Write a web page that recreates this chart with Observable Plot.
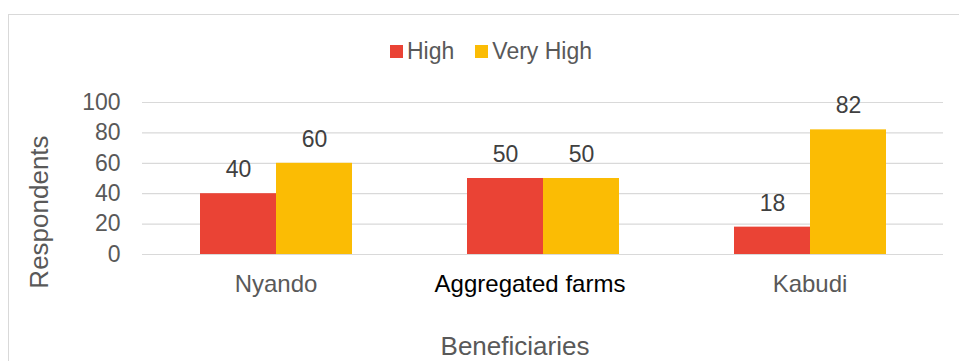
<!DOCTYPE html>
<html>
<head>
<meta charset="utf-8">
<script src="https://cdn.jsdelivr.net/npm/d3@7"></script>
<script src="https://cdn.jsdelivr.net/npm/@observablehq/plot@0.6"></script>
<style>
  html, body { margin: 0; padding: 0; background: #fff; }
  #frame { position: relative; width: 959px; height: 361px; overflow: hidden; background: #fff;
           font-family: "Liberation Sans", Arial, sans-serif; color: #595959; }
  #border { position: absolute; left: 8px; top: 14px; width: 1000px; height: 400px;
            border: 1px solid #d9d9d9; pointer-events: none; }
  #legend { position: absolute; left: 390px; top: 40px; height: 23px; display: flex;
            align-items: center; font-size: 23px; line-height: 23px; white-space: nowrap; }
  #legend .sw { display: inline-block; width: 13px; height: 13px; margin-right: 4px; }
  #legend .item { display: flex; align-items: center; }
  #legend .item + .item { margin-left: 21px; }
  #chart { position: absolute; left: 0; top: 70px; }
  #xtitle { position: absolute; left: 0; top: 333px; width: 1030px; text-align: center;
            font-size: 26px; line-height: 26px; white-space: nowrap; }
  #ytitle { position: absolute; left: -61.4px; top: 198.5px; width: 200px; height: 26px;
            text-align: center; font-size: 26px; line-height: 26px; white-space: nowrap;
            transform: rotate(-90deg); }
</style>
</head>
<body>
<div id="frame">
  <div id="legend"></div>
  <div id="chart"></div>
  <div id="xtitle">Beneficiaries</div>
  <div id="ytitle">Respondents</div>
  <div id="border"></div>
</div>
<script>
// Beneficiary sites and rating levels
const sites = ["Nyando", "Aggregated farms", "Kabudi"];
const levels = ["High", "Very High"];
const highValues = [40, 50, 18];
const veryHighValues = [60, 50, 82];
const yTicks = [0, 20, 40, 60, 80, 100];
const levelColors = ["#EA4335", "#FBBC04"];

// Long-format table for the grouped bars
const rows = sites.flatMap((site, i) => [
  {site, level: levels[0], value: highValues[i]},
  {site, level: levels[1], value: veryHighValues[i]}
]);

// Legend
const legend = document.getElementById("legend");
levels.forEach((lv, i) => {
  const item = document.createElement("span");
  item.className = "item";
  const sw = document.createElement("span");
  sw.className = "sw";
  sw.style.background = levelColors[i];
  const label = document.createElement("span");
  label.textContent = lv;
  item.append(sw, label);
  legend.append(item);
});

const chart = Plot.plot({
  width: 959,
  height: 291,
  marginTop: 32,
  marginBottom: 107,
  marginLeft: 141,
  marginRight: 16,
  style: {
    fontFamily: "'Liberation Sans', Arial, sans-serif",
    fontSize: "23px",
    color: "#595959",
    background: "transparent",
    overflow: "visible"
  },
  fx: {domain: sites, padding: 0, axis: null},
  x: {domain: levels, paddingInner: 0, paddingOuter: 0.747, axis: null},
  y: {domain: [0, 100], axis: null},
  color: {domain: levels, range: levelColors},
  marks: [
    Plot.gridY(yTicks, {stroke: "#d9d9d9", strokeOpacity: 1, strokeWidth: 1.2}),
    Plot.axisY(yTicks, {tickSize: 0, tickPadding: 22, fill: "#595959", fontSize: 23, label: null}),
    Plot.barY(rows, {fx: "site", x: "level", y: "value", fill: "level"}),
    Plot.text(rows, {fx: "site", x: "level", y: "value", text: d => String(d.value),
                     dy: -24, fill: "#404040", fontSize: 23}),
    Plot.text(sites.filter(s => s !== "Aggregated farms"),
              {fx: d => d, text: d => d, frameAnchor: "bottom", lineAnchor: "top",
               dy: 20, fill: "#595959", fontSize: 24}),
    Plot.text(sites.filter(s => s === "Aggregated farms"),
              {fx: d => d, text: d => d, frameAnchor: "bottom", lineAnchor: "top",
               dy: 20, dx: -13, fill: "#000000", fontSize: 24})
  ]
});
document.getElementById("chart").append(chart);
</script>
</body>
</html>
